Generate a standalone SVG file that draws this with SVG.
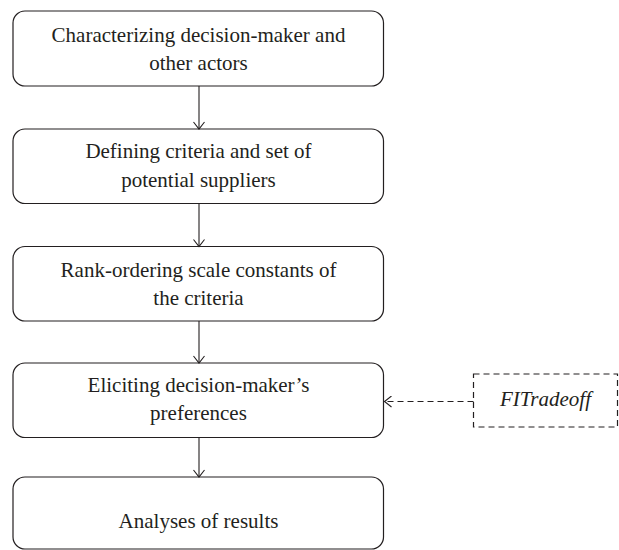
<svg xmlns="http://www.w3.org/2000/svg" width="619" height="550" viewBox="0 0 619 550">
<style>
.box{fill:#fff;stroke:#231f20;stroke-width:1.2}
.t{font-family:"Liberation Serif",serif;font-size:21px;fill:#231f20;text-anchor:middle}
.c{stroke:#231f20;stroke-width:1.1;fill:none}
.d{stroke-dasharray:6,4}
</style>
<defs>
<marker id="ah" markerWidth="12" markerHeight="12" refX="10" refY="6" orient="auto" markerUnits="userSpaceOnUse">
<path d="M3,0.5 L10,6 L3,11.5" fill="none" stroke="#231f20" stroke-width="1.1"/>
</marker>
</defs>
<rect width="619" height="550" fill="#fff"/>
<g id="n1"><rect class="box" x="13" y="11" width="370.5" height="75" rx="12"/>
<text class="t" x="198.5" y="42">Characterizing decision-maker and</text>
<text class="t" x="198.5" y="70">other actors</text></g>
<g id="n2"><rect class="box" x="13" y="129" width="370.5" height="74.5" rx="12"/>
<text class="t" x="198.5" y="158">Defining criteria and set of</text>
<text class="t" x="198.5" y="187">potential suppliers</text></g>
<g id="n3"><rect class="box" x="13" y="246.5" width="370.5" height="74.5" rx="12"/>
<text class="t" x="198.5" y="277">Rank-ordering scale constants of</text>
<text class="t" x="198.5" y="305">the criteria</text></g>
<g id="n4"><rect class="box" x="13" y="363" width="370.5" height="74.5" rx="12"/>
<text class="t" x="198.5" y="392">Eliciting decision-maker’s</text>
<text class="t" x="198.5" y="420">preferences</text></g>
<g id="n5"><rect class="box" x="13" y="477" width="370.5" height="72" rx="12"/>
<text class="t" x="198.5" y="528">Analyses of results</text></g>
<g id="n6"><rect class="box d" x="473.5" y="374" width="144" height="53" fill="#fff"/>
<text class="t" x="545.5" y="406" font-style="italic" font-size="19">FITradeoff</text></g>
<g id="connectors">
<line class="c" x1="199" y1="86" x2="199" y2="129" marker-end="url(#ah)"/>
<line class="c" x1="199" y1="203.5" x2="199" y2="246.5" marker-end="url(#ah)"/>
<line class="c" x1="199" y1="321" x2="199" y2="363" marker-end="url(#ah)"/>
<line class="c" x1="199" y1="437.5" x2="199" y2="477" marker-end="url(#ah)"/>
<line class="c d" x1="473.5" y1="401.5" x2="384.5" y2="401.5" marker-end="url(#ah)"/>
</g>
</svg>
